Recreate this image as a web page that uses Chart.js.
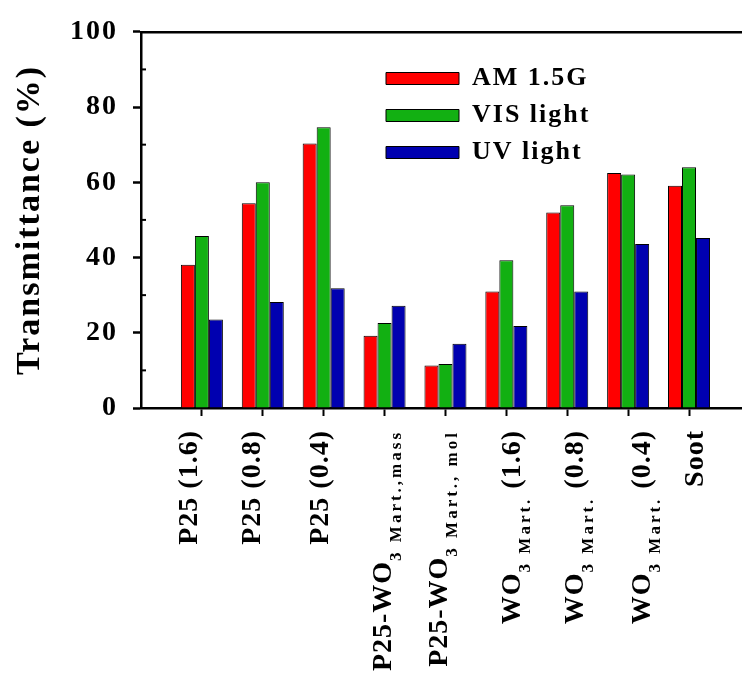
<!DOCTYPE html>
<html>
<head>
<meta charset="utf-8">
<script src="https://cdn.jsdelivr.net/npm/chart.js@4/dist/chart.umd.min.js"></script>
<style>
  html, body { margin: 0; padding: 0; background: #ffffff; }
  #wrap { width: 742px; height: 673px; position: relative; }
</style>
</head>
<body>
<div id="wrap"><canvas id="c"></canvas></div>
<script>
// ---------- data ----------
// "_{...}" marks subscript text in a category label
const categories = [
  "P25 (1.6)",
  "P25 (0.8)",
  "P25 (0.4)",
  "P25-WO_{3 Mart.,mass}",
  "P25-WO_{3 Mart., mol}",
  "WO_{3 Mart.} (1.6)",
  "WO_{3 Mart.} (0.8)",
  "WO_{3 Mart.} (0.4)",
  "Soot"
];
const seriesNames = ["AM 1.5G", "VIS light", "UV light"];
const amValues  = [38.1, 54.4, 70.3, 19.2, 11.3, 31.0, 52.0, 62.5, 59.1];
const visValues = [45.7, 60.0, 74.6, 22.6, 11.7, 39.3, 53.9, 62.1, 64.0];
const uvValues  = [23.5, 28.2, 31.8, 27.2, 17.1, 21.8, 31.0, 43.6, 45.2];
const yTicks      = [0, 20, 40, 60, 80, 100];
const yMinorTicks = [10, 30, 50, 70, 90];
const yTitle = "Transmittance (%)";

// ---------- styling ----------
const FONT = '"Liberation Serif", "Times New Roman", serif';
const COLORS = ["#FF0000", "#12B012", "#0000B0"];

function toPoints(vals) { return vals.map((v, i) => ({ x: i, y: v })); }
function parseLabel(s) {
  const segs = [];
  const re = /_\{([^}]*)\}/g;
  let last = 0, m;
  while ((m = re.exec(s)) !== null) {
    if (m.index > last) segs.push({ t: s.slice(last, m.index), sub: false });
    segs.push({ t: m[1], sub: true });
    last = re.lastIndex;
  }
  if (last < s.length) segs.push({ t: s.slice(last), sub: false });
  return segs;
}

const spacingPlugin = {
  id: 'spacing',
  beforeDraw(chart) { chart.ctx.letterSpacing = '2px'; }
};

const legendPlace = {
  id: 'legendPlace',
  afterLayout(chart, args, opts) {
    const lg = chart.legend;
    if (!lg) return;
    lg.left = opts.left; lg.top = opts.top;
    lg.right = chart.width; lg.width = chart.width - opts.left;
    lg.bottom = chart.chartArea.bottom; lg.height = lg.bottom - lg.top;
  }
};

const minorTicks = {
  id: 'minorTicks',
  afterDraw(chart) {
    const ys = chart.scales.y, ctx = chart.ctx;
    const x0 = chart.chartArea.left;
    ctx.save();
    ctx.strokeStyle = '#000';
    ctx.lineWidth = 2;
    yMinorTicks.forEach(v => {
      const y = ys.getPixelForValue(v);
      ctx.beginPath();
      ctx.moveTo(x0, y);
      ctx.lineTo(x0 + 5, y);
      ctx.stroke();
    });
    ctx.restore();
  }
};

const richLabels = {
  id: 'richLabels',
  afterDraw(chart, args, opts) {
    const ctx = chart.ctx, xs = chart.scales.x;
    ctx.save();
    ctx.fillStyle = '#000';
    ctx.textAlign = 'left';
    ctx.textBaseline = 'alphabetic';
    categories.forEach((cat, i) => {
      const segs = parseLabel(cat);
      let total = 0;
      segs.forEach(s => {
        ctx.font = 'bold ' + (s.sub ? opts.subSize : opts.size) + 'px ' + FONT;
        ctx.letterSpacing = (s.sub ? opts.subSpacing : opts.spacing) + 'px';
        s.w = ctx.measureText(s.t).width;
        total += s.w;
      });
      const x = xs.getPixelForValue(i) + opts.offsets[i];
      ctx.save();
      ctx.translate(x, chart.chartArea.bottom + opts.gap);
      ctx.rotate(-Math.PI / 2);
      let cx = -total;
      segs.forEach(s => {
        ctx.font = 'bold ' + (s.sub ? opts.subSize : opts.size) + 'px ' + FONT;
        ctx.letterSpacing = (s.sub ? opts.subSpacing : opts.spacing) + 'px';
        ctx.fillText(s.t, cx, s.sub ? opts.subShift : 0);
        cx += s.w;
      });
      ctx.restore();
    });
    ctx.restore();
  }
};

const seriesValues = [amValues, visValues, uvValues];
const datasets = seriesNames.map((name, k) => ({
  label: name,
  data: toPoints(seriesValues[k]),
  backgroundColor: COLORS[k],
  borderColor: '#000',
  borderWidth: 1,
  categoryPercentage: 0.69,
  barPercentage: 1.0
}));

new Chart(document.getElementById('c'), {
  type: 'bar',
  data: { labels: categories, datasets },
  plugins: [spacingPlugin, legendPlace, minorTicks, richLabels],
  options: {
    responsive: true,
    maintainAspectRatio: false,
    animation: false,
    devicePixelRatio: 1,
    layout: { padding: { top: 27, right: 0, bottom: 0, left: 0 } },
    plugins: {
      tooltip: { enabled: false },
      legend: {
        position: 'chartArea',
        align: 'start',
        labels: {
          boxWidth: 73,
          boxHeight: 12,
          padding: 11,
          color: '#000',
          font: { family: FONT, size: 26, weight: 'bold' }
        }
      },
      legendPlace: { left: 375, top: 54.5 },
      richLabels: { size: 28, spacing: 1, subSize: 17, subSpacing: 3, subShift: 10, gap: 22,
                    offsets: [-4.5, -2.5, 4, 6, 2, 14, 16, 22, 14] }
    },
    scales: {
      x: {
        type: 'linear',
        position: 'bottom',
        min: -1,
        max: 8.87,
        offset: false,
        afterBuildTicks: s => { s.ticks = categories.map((_, i) => ({ value: i })); },
        afterFit: s => { s.height = 265; },
        ticks: { display: false },
        grid: { display: true, drawOnChartArea: false, drawTicks: true, tickLength: 8,
                tickWidth: 2, tickColor: '#000', offset: false },
        border: { display: true, color: '#000', width: 2.5 }
      },
      xTop: {
        type: 'linear',
        position: 'top',
        min: -1,
        max: 8.87,
        afterFit: s => { s.height = 0; },
        ticks: { display: false },
        grid: { drawOnChartArea: false, drawTicks: false },
        border: { display: true, color: '#000', width: 2.5 }
      },
      y: {
        min: 0,
        max: 100,
        afterBuildTicks: s => { s.ticks = yTicks.map(v => ({ value: v })); },
        afterFit: s => { s.width = 141; },
        ticks: { color: '#000', padding: 15, font: { family: FONT, size: 28, weight: 'bold' } },
        grid: { drawOnChartArea: false, drawTicks: true, tickLength: 8, tickWidth: 2.5, tickColor: '#000' },
        border: { display: true, color: '#000', width: 2.5 },
        title: { display: true, text: yTitle, color: '#000',
                 font: { family: FONT, size: 34, weight: 'bold' }, padding: { top: 10, bottom: 0 } }
      }
    }
  }
});
</script>
</body>
</html>
